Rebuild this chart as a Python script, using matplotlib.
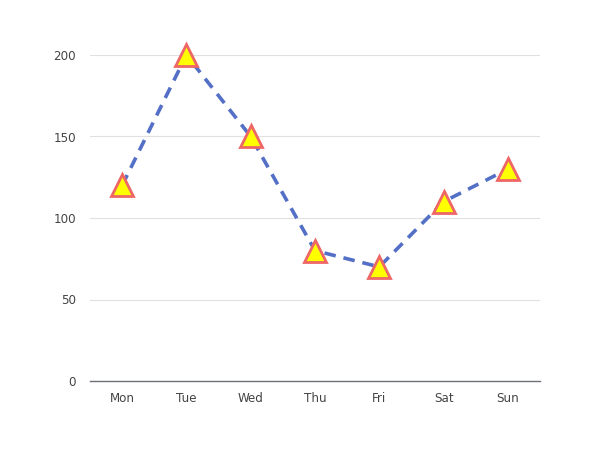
import matplotlib
matplotlib.use("Agg")
import matplotlib.pyplot as plt

days = ["Mon", "Tue", "Wed", "Thu", "Fri", "Sat", "Sun"]
values = [120, 200, 150, 80, 70, 110, 130]
yticks = [0, 50, 100, 150, 200]

fig = plt.figure(figsize=(6, 4.5), dpi=100)
ax = fig.add_axes([0.15, 1 - 381 / 450, 0.75, (381 - 55) / 450])
x = list(range(len(days)))
ax.plot(x, values, color="#5470c6", lw=2.6, ls=(0, (3.2, 2.2)),
        marker="^", markersize=16, markerfacecolor="#ffff00",
        markeredgecolor="#ee6666", markeredgewidth=2.0, zorder=3, clip_on=False)
ax.set_xlim(-0.5, len(days) - 0.5)
ax.set_ylim(0, 200)
ax.set_yticks(yticks)
ax.set_xticks(x)
ax.set_xticklabels(days)
ax.grid(axis="y", color="#e0e0e0", lw=0.8)
ax.set_axisbelow(True)
for s in ["top", "right", "left"]:
    ax.spines[s].set_visible(False)
ax.spines["bottom"].set_color("#6e7079")
ax.spines["bottom"].set_linewidth(1)
ax.tick_params(axis="both", length=0, labelsize=8.6, labelcolor="#444444")
ax.tick_params(axis="y", pad=10)
ax.tick_params(axis="x", pad=8)
fig.savefig("out.png", dpi=100)
